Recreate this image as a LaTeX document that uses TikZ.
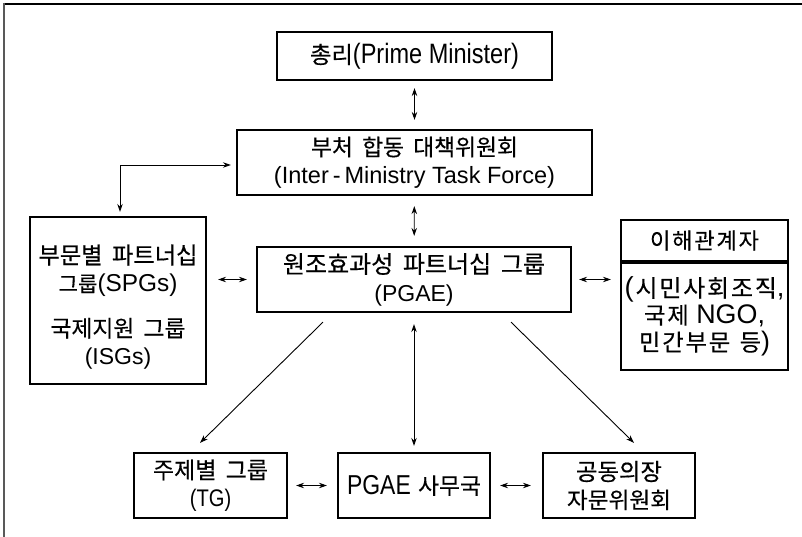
\documentclass[tikz,border=0pt]{standalone}
\usepackage{graphicx}
\usepackage{fontspec}
\setmainfont{Liberation Sans}
% Hangul face, a little heavier than the regular weight
\newfontfamily\krfont[WordSpace=1.8,FakeBold=0.4]{Noto Sans CJK KR}
% condensed Latin for the top and bottom boxes
\newfontfamily\nlatfont[FakeStretch=0.84]{Liberation Sans}
\usetikzlibrary{arrows.meta}
\newcommand\hk[1]{{\fontsize{20}{28}\selectfont\krfont #1}}
\newcommand\nlat[1]{{\fontsize{24}{28}\selectfont\nlatfont #1}}
% one line of text set to a given width
\newcommand\fit[2]{\resizebox{#1pt}{!}{#2}}
% small gap between letters in the stakeholder box
\newcommand\ks{\kern1.6pt}
\begin{document}
\begin{tikzpicture}[x=1pt,y=-1pt,
  box/.style={draw, line width=2.2pt, inner sep=0pt, align=center,
    font=\fontsize{23}{28}\selectfont},
  label text/.style={inner sep=0pt, align=center, font=\fontsize{23}{28}\selectfont},
  arrowtip/.tip={Stealth[length=8pt,width=5.5pt]},
  link/.style={line width=0.9pt, -arrowtip},
  both/.style={line width=0.9pt, arrowtip-arrowtip}]
\useasboundingbox (0,0) rectangle (802,537);
% frame lines along the top and left edges
\draw[line width=2pt] (3,4) -- (802,4);
\draw[line width=2pt, black!65] (4,3) -- (4,537);

% boxes
\node[box, minimum width=275pt, minimum height=48pt] (pm) at (414.5,56)
  {\fit{209}{\hk{총리}\nlat{(Prime\ Minister)}}};
\node[box, minimum width=355pt, minimum height=65pt] (tf) at (414.5,162.5)
  {\fit{207}{\hk{부처 합동 대책위원회}}\\\fit{281}{(Inter\,-\,Ministry Task Force)}};
\node[box, minimum width=314pt, minimum height=65pt] (pgae) at (414,279.5)
  {\fit{262}{\hk{원조효과성 파트너십 그룹}}\\(PGAE)};
\node[box, minimum width=176pt, minimum height=167pt] (spg) at (118,300.5) {};
\node[label text] (spgtext) at (118,307)
  {\fit{159}{\hk{부문별 파트너십}}\\\fit{119}{\hk{그룹}(SPGs)}\\[17pt]%
   \fit{135}{\hk{국제지원 그룹}}\\(ISGs)};
% stakeholder box: header cell and body cell, letter-spaced text
\node[box, minimum width=167pt, minimum height=41pt] (shh) at (704.5,240.5)
  {\fit{109}{\hk{이\ks 해\ks 관\ks 계\ks 자}}};
\node[box, minimum width=167pt, minimum height=107pt, anchor=north,
  font=\fontsize{23}{27}\selectfont] (shb) at (shh.south)
  {\fit{160}{(\hk{\ks 시\ks 민\ks 사\ks 회\ks 조\ks 직},}\\\fit{121}{\hk{국\ks 제} NGO,}\\%
   \fit{131}{\hk{민\ks 간\ks 부\ks 문 등})}};
\node[box, minimum width=153pt, minimum height=65pt] (tg) at (210.5,485.5)
  {\fit{115}{\hk{주제별 그룹}}\\\nlat{(TG)}};
\node[box, minimum width=152pt, minimum height=65pt] (sec) at (414,485.5)
  {\fit{134}{\nlat{PGAE} \hk{사무국}}};
\node[box, minimum width=152pt, minimum height=65pt] (cc) at (619,485.5)
  {\fit{86}{\hk{공동의장}}\\\fit{104}{\hk{자문위원회}}};

% connectors
\draw[both, shorten <=7pt, shorten >=9pt] (pm) -- (tf);
\draw[both, shorten <=10pt, shorten >=10pt] (tf) -- (pgae);
\draw[both] ([xshift=-5pt,yshift=-2.5pt]tf.west) -| ([xshift=2pt,yshift=4pt]spg.north);
\draw[both, shorten <=11pt, shorten >=9pt] (spg.east |- pgae) -- (pgae.west);
\draw[both, shorten <=7pt, shorten >=9pt] (pgae.east) -- (shb.west |- pgae);
\draw[link] ([xshift=-91pt,yshift=-9pt]pgae.south) -- ([xshift=-10.5pt,yshift=9pt]tg.north);
\draw[both, shorten <=11pt, shorten >=6pt] (pgae.south) -- (sec.north);
\draw[link] ([xshift=97pt,yshift=-9pt]pgae.south) -- ([xshift=15pt,yshift=9pt]cc.north);
\draw[both, shorten <=8pt, shorten >=10pt] (tg.east) -- (sec.west);
\draw[both, shorten <=9pt, shorten >=11pt] (sec.east) -- (cc.west);
\end{tikzpicture}
\end{document}
